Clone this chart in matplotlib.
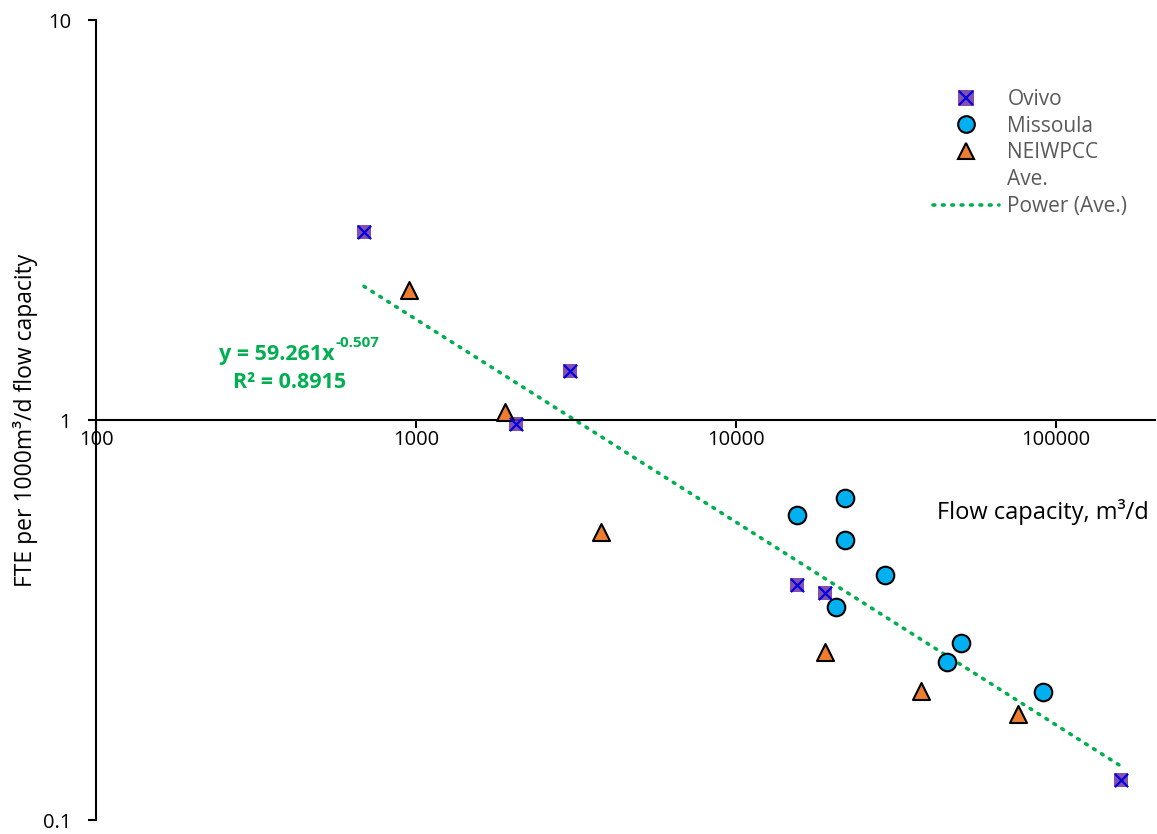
import matplotlib
matplotlib.use('Agg')
import matplotlib.pyplot as plt
from matplotlib.lines import Line2D
from matplotlib.legend_handler import HandlerTuple
import numpy as np

plt.rcParams['font.family'] = ['Open Sans', 'DejaVu Sans']

# data
ovivo_x = [688, 3030, 2053, 15500, 18970, 159700]
ovivo_y = [2.95, 1.326, 0.977, 0.387, 0.369, 0.126]

missoula_x = [15500, 21900, 21900, 29220, 20540, 50500, 45620, 91000]
missoula_y = [0.579, 0.638, 0.501, 0.41, 0.341, 0.277, 0.248, 0.209]

neiwpcc_x = [951, 1897, 3786, 18970, 37870, 76100]
neiwpcc_y = [2.11, 1.047, 0.525, 0.263, 0.21, 0.184]

# power trendline shown on the chart
coef = 59.261
expo = -0.507
r2 = 0.8915

x_ticks = [100, 1000, 10000, 100000]
x_labels = ['100', '1000', '10000', '100000']
y_ticks = [0.1, 1, 10]
y_labels = ['0.1', '1', '10']

fig = plt.figure(figsize=(11.57, 8.34), dpi=100)
ax = fig.add_axes([96/1157, 14/834, 1059/1157, 800/834])
ax.set_xscale('log')
ax.set_yscale('log')
ax.set_xlim(100, 2.04e5)
ax.set_ylim(0.1, 10)

# trendline over the data range
all_x = ovivo_x + missoula_x + neiwpcc_x
tx = np.array([min(all_x), max(all_x)])
ax.plot(tx, coef * tx ** expo, color='#00B050', lw=2.6, ls=(0, (0.5, 2.1)),
        dash_capstyle='round', zorder=2)

ax.scatter(ovivo_x, ovivo_y, marker='s', s=100, color='#7030A0', alpha=0.85,
           linewidths=0, zorder=3)
ax.scatter(ovivo_x, ovivo_y, marker='x', s=90, color='#0000E0', linewidths=1.6, zorder=4)
ax.scatter(missoula_x, missoula_y, marker='o', s=160, facecolor='#00B0F0',
           edgecolor='black', linewidths=1.5, zorder=3)
ax.scatter(neiwpcc_x, neiwpcc_y, marker='^', s=150, facecolor='#ED7D31',
           edgecolor='black', linewidths=1.5, zorder=3)

# axes styling
ax.spines['top'].set_visible(False)
ax.spines['right'].set_visible(False)
ax.spines['bottom'].set_position(('data', 1))
ax.spines['bottom'].set_linewidth(1.5)
ax.spines['left'].set_linewidth(1.5)
ax.minorticks_off()
ax.set_xticks(x_ticks)
ax.set_xticklabels(x_labels)
ax.set_yticks(y_ticks)
ax.set_yticklabels(y_labels)
ax.tick_params(axis='both', direction='out', length=6, width=1.5, labelsize=14.5)
ax.tick_params(axis='x', pad=1)
ax.tick_params(axis='y', pad=12)

ax.set_ylabel('FTE per 1000m³/d flow capacity', fontsize=16.5)
ax.yaxis.set_label_coords(-0.055, 0.5)
ax.text(0.994, 0.385, 'Flow capacity, m³/d', transform=ax.transAxes,
        ha='right', va='center', fontsize=17)

ax.text(0.225, 0.582, 'y = 59.261x', transform=ax.transAxes, ha='right',
        va='center', color='#00B050', fontsize=15.5, fontweight='bold')
ax.text(0.226, 0.596, '-0.507', transform=ax.transAxes, ha='left',
        va='center', color='#00B050', fontsize=11, fontweight='bold')
ax.text(0.236, 0.547, 'R² = %.4f' % r2, transform=ax.transAxes, ha='right',
        va='center', color='#00B050', fontsize=15.5, fontweight='bold')

h_ovivo = (Line2D([], [], marker='s', ls='none', ms=11, color='#7030A0', alpha=0.85, mew=0),
           Line2D([], [], marker='x', ls='none', ms=10, color='#0000E0', mew=1.6))
h_miss = Line2D([], [], marker='o', ls='none', ms=12, mfc='#00B0F0', mec='black', mew=1.5)
h_nei = Line2D([], [], marker='^', ls='none', ms=12, mfc='#ED7D31', mec='black', mew=1.5)
h_ave = Line2D([], [], ls='none')
h_pow = Line2D([], [], color='#00B050', lw=2.6, ls=(0, (0.5, 2.1)), dash_capstyle='round')
leg = ax.legend([h_ovivo, h_miss, h_nei, h_ave, h_pow],
                ['Ovivo', 'Missoula', 'NEIWPCC', 'Ave.', 'Power (Ave.)'],
                handler_map={tuple: HandlerTuple(ndivide=1, pad=0)},
                loc='upper left', bbox_to_anchor=(0.781, 0.927), frameon=False,
                fontsize=15, borderpad=0, handlelength=3.15, handletextpad=0.4,
                labelspacing=0.28)
for t in leg.get_texts():
    t.set_color('#595959')

fig.savefig('out.png', dpi=100)
